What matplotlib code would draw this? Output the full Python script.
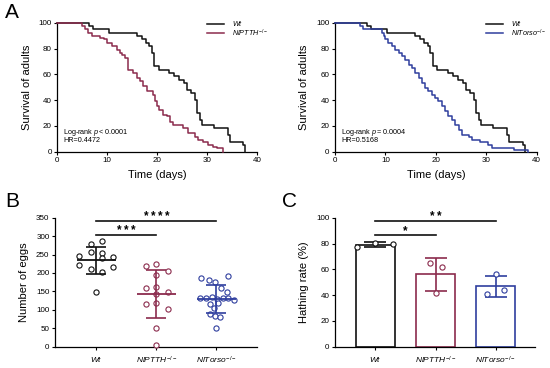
import matplotlib
matplotlib.use("Agg")
import matplotlib.pyplot as plt
import numpy as np

plt.rcParams['font.family'] = ['Liberation Sans', 'DejaVu Sans']
plt.rcParams['mathtext.fontset'] = 'custom'
plt.rcParams['mathtext.rm'] = 'Liberation Sans'
plt.rcParams['mathtext.it'] = 'Liberation Sans:italic'
plt.rcParams['mathtext.bf'] = 'Liberation Sans:bold'

# ---------------- data ----------------
# Panel A: Kaplan-Meier steps (day, % surviving after the step)
wt_days = [0, 6.4, 7.2, 10.4, 15.9, 16.9, 17.7, 18.4, 18.9, 19.4, 20.3, 22.4, 23.4, 24.3, 25.4,
           26.0, 26.7, 27.6, 28.0, 28.5, 29.0, 31.3, 34.2, 34.6, 37.2, 37.6]
wt_surv = [100, 97.4, 94.8, 92.2, 89.6, 87.0, 84.4, 81.8, 76.6, 66.2, 63.6, 61.0, 58.4, 55.8, 53.2,
           48.1, 45.5, 40.3, 29.9, 24.7, 21.0, 18.4, 13.2, 7.9, 5.3, 0]

nipt_days = [0, 4.9, 5.5, 6.2, 7.0, 8.6, 9.3, 9.9, 10.9, 11.9, 12.5, 12.9, 13.6, 14.1, 15.2, 15.9,
             16.5, 17.2, 17.9, 19.2, 19.5, 19.9, 20.4, 21.2, 21.9, 22.5, 23.2, 25.2, 26.2, 27.5,
             28.2, 29.2, 30.2, 31.2, 31.9, 33.1]
nipt_surv = [100, 97.4, 94.8, 92.2, 89.6, 88.3, 87.0, 84.4, 81.8, 79.2, 76.6, 75.3, 72.7, 63.6, 61.0,
             57.1, 54.5, 50.6, 46.8, 44.2, 39.0, 35.1, 32.5, 28.6, 27.3, 23.4, 20.8, 18.2, 14.3, 11.7,
             9.1, 7.8, 5.2, 3.9, 2.6, 0]

nito_days = [0, 5.0, 5.6, 9.3, 9.7, 10.0, 10.6, 11.3, 11.9, 12.6, 13.2, 13.9, 14.6, 15.2, 15.9, 16.6,
             17.2, 17.9, 18.5, 19.2, 19.9, 20.5, 21.2, 21.9, 22.5, 23.2, 23.8, 24.5, 25.2, 26.5,
             27.2, 28.8, 30.4, 31.1, 35.4, 38.3]
nito_surv = [100, 97.4, 94.8, 92.2, 89.6, 87.0, 84.4, 81.8, 79.2, 76.6, 74.0, 71.4, 67.5, 64.9, 61.0,
             57.1, 53.2, 49.4, 46.8, 44.2, 41.6, 39.0, 35.1, 31.2, 27.3, 24.7, 20.8, 16.9, 13.0,
             11.7, 9.1, 7.8, 5.2, 2.6, 1.3, 0]

# Panel B: number of eggs per female
groups = ['Wt', 'NlPTTH', 'NlTorso']
eggs_wt = [278.6, 286.8, 246.9, 256, 255, 244, 239.8, 221.6, 210, 203.5, 217, 149]
eggs_nipt = [219.8, 223.5, 206, 194.5, 158.4, 161, 149, 143, 116, 117.7, 101.4, 50, 4.6]
eggs_nito = [192, 187, 181, 176, 160, 148, 133, 131, 134, 130, 133, 131, 128, 118, 115, 104, 90, 82,
             80, 50]

# Panel C: hatching rate (%)
hatch_wt = [77, 80.5, 79.5]
hatch_nipt = [64.6, 62, 41.4]
hatch_nito = [56, 40.5, 44]

# ---------------- layout / styling ----------------
W, H = 550, 368
fig = plt.figure(figsize=(W / 100, H / 100), dpi=100)

def axes_px(x0, x1, ytop, ybot):
    return fig.add_axes([x0 / W, 1 - ybot / H, (x1 - x0) / W, (ybot - ytop) / H])

BLACK = '#111111'
RED = '#8B2B4D'
BLUE = '#2F3E9E'
TICK_FS = 5.8
LAB_FS = 8
colors = [BLACK, RED, BLUE]

def style(ax):
    for s in ['top', 'right']:
        ax.spines[s].set_visible(False)
    for s in ['left', 'bottom']:
        ax.spines[s].set_linewidth(0.9)
    ax.tick_params(labelsize=TICK_FS, length=2.5, width=0.8, pad=1.5)

lab = {
    'Wt': r'$\mathit{Wt}$',
    'NlPTTH': r'$\mathit{NlPTTH}^{-/-}$',
    'NlTorso': r'$\mathit{NlTorso}^{-/-}$',
}

# ---------- Panel A ----------
def survival(ax, mut_days, mut_surv, mut_color, mut_label, ptxt, hrtxt):
    ax.step(wt_days, wt_surv, where='post', color=BLACK, lw=1.1, clip_on=False, zorder=3)
    ax.step(mut_days, mut_surv, where='post', color=mut_color, lw=1.1, clip_on=False, zorder=3)
    ax.set_xlim(0, 40)
    ax.set_ylim(0, 100)
    ax.set_xticks([0, 10, 20, 30, 40])
    ax.set_yticks([0, 20, 40, 60, 80, 100])
    style(ax)
    ax.set_xlabel('Time (days)', fontsize=LAB_FS, labelpad=4)
    ax.set_ylabel('Survival of adults', fontsize=LAB_FS, labelpad=5)
    # legend
    for i, (c, t) in enumerate([(BLACK, lab['Wt']), (mut_color, mut_label)]):
        yy = 0.99 - i * 0.072
        ax.plot([0.75, 0.835], [yy, yy], color=c, lw=1.1, transform=ax.transAxes, clip_on=False)
        ax.text(0.875, yy, t, fontsize=5.2, va='center', ha='left', transform=ax.transAxes)
    ax.text(0.03, 0.15, 'Log-rank ' + ptxt, fontsize=5.2, transform=ax.transAxes, va='center')
    ax.text(0.03, 0.083, hrtxt, fontsize=5.2, transform=ax.transAxes, va='center')

axA1 = axes_px(57.3, 257.3, 22.7, 151.7)
survival(axA1, nipt_days, nipt_surv, RED, lab['NlPTTH'], r'$\mathit{p<0.0001}$', 'HR=0.4472')
axA2 = axes_px(335, 536.7, 22.7, 151.7)
survival(axA2, nito_days, nito_surv, BLUE, lab['NlTorso'], r'$\mathit{p=0.0004}$', 'HR=0.5168')

# ---------- Panel B ----------
axB = axes_px(55, 256.7, 217.7, 346.7)
egg_sets = [eggs_wt, eggs_nipt, eggs_nito]
jitters = [
    [-0.095, 0.093, -0.29, -0.095, 0.093, 0.28, 0.093, -0.29, -0.095, 0.093, 0.28, 0.0],
    [-0.18, 0.0, 0.19, 0.0, -0.18, 0.0, 0.19, 0.0, -0.18, 0.0, 0.19, 0.0, 0.0],
    [0.19, -0.25, -0.12, -0.02, 0.08, 0.17, -0.28, -0.18, -0.08, 0.01, 0.11, 0.2, 0.29, 0.03,
     -0.11, -0.04, -0.11, -0.03, 0.06, 0.0],
]
for i, (vals, jit, c) in enumerate(zip(egg_sets, jitters, colors)):
    v = np.array(vals)
    m, sd = v.mean(), v.std(ddof=1)
    axB.scatter(i + np.array(jit), v, s=14, facecolors='white', edgecolors=c, linewidths=0.8,
                zorder=3, clip_on=False)
    axB.hlines(m, i - 0.32, i + 0.32, color=c, lw=1.3, zorder=4)
    axB.errorbar(i, m, yerr=sd, fmt='none', ecolor=c, elinewidth=1.2, capsize=7.5,
                 capthick=1.2, zorder=4)
axB.set_xlim(-0.69, 2.67)
axB.set_ylim(0, 350)
axB.set_yticks(np.arange(0, 351, 50))
axB.set_xticks([0, 1, 2])
axB.set_xticklabels([lab[g] for g in groups])
style(axB)
axB.tick_params(axis='x', labelsize=6, pad=3.5)
axB.set_ylabel('Number of eggs', fontsize=LAB_FS, labelpad=5)

def sig(ax, x0, x1, y, txt, fs=8.5):
    ax.plot([x0, x1], [y, y], color=BLACK, lw=1.2, clip_on=False)
    ax.annotate(txt, xy=((x0 + x1) / 2, y), xytext=(0, 0.6), textcoords='offset points',
                ha='center', va='baseline', fontsize=fs, fontweight='bold')

sig(axB, 0, 1, 303, '*\u2009*\u2009*')
sig(axB, 0, 2, 342, '*\u2009*\u2009*\u2009*')

# ---------- Panel C ----------
axC = axes_px(335, 535, 217.7, 346.7)
hatch_sets = [hatch_wt, hatch_nipt, hatch_nito]
hatch_jit = [[-0.3, 0.0, 0.29], [-0.1, 0.1, 0.0], [0.0, -0.15, 0.14]]
for i, (vals, jit, c) in enumerate(zip(hatch_sets, hatch_jit, colors)):
    v = np.array(vals)
    m, sd = v.mean(), v.std(ddof=1)
    axC.bar(i, m, width=0.65, facecolor='white', edgecolor=c, linewidth=1.2, zorder=2)
    axC.errorbar(i, m, yerr=sd, fmt='none', ecolor=c, elinewidth=1.2, capsize=8,
                 capthick=1.2, zorder=3)
    axC.scatter(i + np.array(jit), v, s=14, facecolors='white', edgecolors=c, linewidths=0.8,
                zorder=4)
axC.set_xlim(-0.67, 2.65)
axC.set_ylim(0, 100)
axC.set_yticks(np.arange(0, 101, 20))
axC.set_xticks([0, 1, 2])
axC.set_xticklabels([lab[g] for g in groups])
style(axC)
axC.tick_params(axis='x', labelsize=6, pad=3.5)
axC.set_ylabel('Hathing rate (%)', fontsize=LAB_FS, labelpad=5)
sig(axC, 0, 1, 86.6, '*')
sig(axC, 0, 2, 97.7, '*\u2009*')

# panel letters
for t, x, y in [('A', 5, 3), ('B', 5, 192), ('C', 282, 192)]:
    fig.text(x / W, 1 - y / H, t, fontsize=15, ha='left', va='top')

fig.savefig('out.png', dpi=100)
